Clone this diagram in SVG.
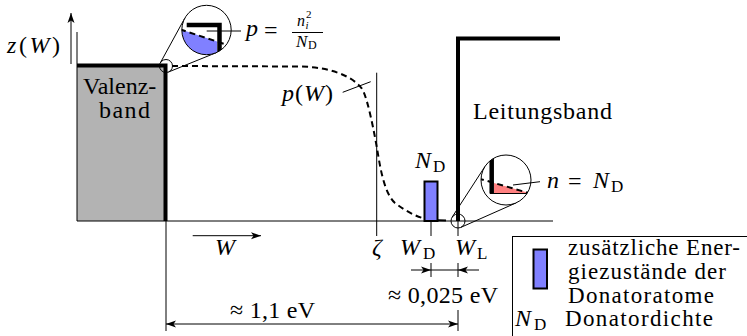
<svg xmlns="http://www.w3.org/2000/svg" width="747" height="336" viewBox="0 0 747 336">
<defs>
  <marker id="ah" viewBox="0 0 10 8" refX="10" refY="4" markerWidth="10" markerHeight="8" orient="auto-start-reverse" markerUnits="userSpaceOnUse">
    <path d="M0,0.5 L10,4 L0,7.5 L2.5,4 Z" fill="#000"/>
  </marker>
  <clipPath id="c1"><circle cx="206.5" cy="30" r="24.7"/></clipPath>
  <clipPath id="c2"><circle cx="506" cy="180" r="25"/></clipPath>
</defs>
<style>
  text{font-family:'Liberation Serif',serif;font-size:24px;fill:#000}
  .it{font-style:italic}
  .sub{font-size:17px;font-style:normal}
  .s16{font-size:16px}
  .s17{font-size:17px}
  .s12{font-size:12px}
  .s11{font-size:11px}
  .leg{font-size:23px}
  .thin{stroke:#000;stroke-width:1;fill:none}
  .thick{stroke:#000;stroke-width:4;fill:none;stroke-linejoin:miter}
  .dash{stroke:#000;stroke-width:2;fill:none;stroke-dasharray:6 4}
  .ring{stroke:#000;stroke-width:1;fill:none}
  .blue{fill:#8080ff}
  .red{fill:#ff8080}
</style>

<g id="valenzband">
  <rect x="77" y="65.5" width="88.5" height="155.5" fill="#b3b3b3"/>
  <path class="thick" d="M77,65.5 H165.5 V221"/>
  <text x="83" y="94">Valenz-</text>
  <text x="99" y="118" textLength="51">band</text>
</g>

<g id="leitungsband">
  <path class="thick" d="M458,221 V38.5 H560"/>
  <text x="473" y="119" textLength="139">Leitungsband</text>
</g>

<g id="donator">
  <rect x="424.5" y="181.5" width="13" height="39.5" class="blue" stroke="#000" stroke-width="2"/>
  <text class="it" x="415" y="168">N<tspan class="sub" x="433" y="172">D</tspan></text>
</g>

<g id="connectors">
  <path class="thin" d="M77,32 V221 H553"/>
  <path class="thin" d="M71,64 V13" marker-end="url(#ah)"/>
  <path class="dash" d="M172,66 L300,66.5 C330,67 352,76 361.7,88.3 C366,94 372,120 376.7,146.7 C379.5,162 383,192 395,203 C405,210.5 415,216 424,218.5"/>
  <path stroke="#000" stroke-width="2" d="M438,220.3 L446,220.6"/>
  <path class="thin" d="M342.7,92.3 L370.7,81.7"/>
  <path class="thin" d="M376.7,72.7 V236"/>
  <path class="thin" d="M431,221 V236 M458,221 V236"/>
  <path class="thin" d="M192.7,235.7 H261" marker-end="url(#ah)"/>
  <path class="thin" d="M411,270 H431" marker-end="url(#ah)"/>
  <path class="thin" d="M479,270 H458" marker-end="url(#ah)"/>
  <path class="thin" d="M431,270 H458 M431,263 V277 M458,263 V277"/>
  <path class="thin" d="M166,221 V331 M458,310 V331"/>
  <path class="thin" d="M166,324 H458" marker-start="url(#ah)" marker-end="url(#ah)"/>
</g>

<g id="mag-valenz">
  <circle class="ring" cx="166" cy="66" r="6.5"/>
  <path class="thin" d="M160.3,62.9 L184.7,18.3 M168.5,72 L216.2,52.7"/>
  <g clip-path="url(#c1)">
    <rect x="180" y="4" width="53" height="53" fill="#fff"/>
    <path class="blue" d="M175,27.6 L217,41.6 L217,60 L175,60 Z"/>
    <path class="dash" d="M180,29.3 L232,46.6"/>
    <path stroke="#000" stroke-width="4.5" fill="none" d="M186.7,25 H219.5 V60"/>
  </g>
  <circle class="ring" cx="206.5" cy="30" r="24.7"/>
  <path class="thin" d="M206.7,31 H241"/>
  <text class="it" x="246" y="36">p</text>
  <text x="264" y="38">=</text>
  <path stroke="#000" stroke-width="1" d="M292,32.5 H323"/>
  <text class="it s16" x="297" y="26">n</text>
  <text class="it s11" x="305.5" y="29">i</text>
  <text class="s11" x="306" y="18">2</text>
  <text class="it s17" x="296" y="47">N<tspan class="s12" x="308" y="49" font-style="normal">D</tspan></text>
</g>

<g id="mag-leitung">
  <circle class="ring" cx="458" cy="221" r="7"/>
  <path class="thin" d="M452.1,217.2 L485,166.4 M460.8,227.4 L516.1,202.9"/>
  <g clip-path="url(#c2)">
    <rect x="480" y="154" width="52" height="52" fill="#fff"/>
    <path class="red" d="M494,182.9 L531,193.6 L494,193.6 Z"/>
    <path class="thin" d="M490,193.5 H535"/>
    <path class="dash" d="M478,178.3 L535,194.8"/>
    <path stroke="#000" stroke-width="4.5" fill="none" d="M491.7,150 V193.5"/>
  </g>
  <circle class="ring" cx="506" cy="180" r="25"/>
  <path class="thin" d="M513,185 L540,181.7"/>
  <text class="it" x="547" y="188">n</text>
  <text x="568" y="189">=</text>
  <text class="it" x="593" y="188">N<tspan class="sub" x="611" y="192">D</tspan></text>
</g>

<g id="labels">
  <text x="7" y="53" textLength="53"><tspan class="it">z</tspan>(<tspan class="it">W</tspan>)</text>
  <text x="282" y="101" textLength="51"><tspan class="it">p</tspan>(<tspan class="it">W</tspan>)</text>
  <text class="it" x="215" y="255">W</text>
  <text class="it" x="372" y="255">ζ</text>
  <text class="it" x="400" y="255">W<tspan class="sub" x="423" y="259">D</tspan></text>
  <text class="it" x="455" y="255">W<tspan class="sub" x="477" y="259">L</tspan></text>
  <text x="388" y="303" textLength="110">≈ 0,025 eV</text>
  <text x="230" y="318" textLength="85">≈ 1,1 eV</text>
</g>

<g id="legend">
  <rect x="512.5" y="236.5" width="260" height="120" fill="none" stroke="#000" stroke-width="1"/>
  <rect x="533.5" y="249.5" width="13.5" height="39" class="blue" stroke="#000" stroke-width="2"/>
  <text class="leg" x="568" y="255" textLength="172">zusätzliche Ener-</text>
  <text class="leg" x="568" y="279" textLength="158">giezustände der</text>
  <text class="leg" x="568" y="302.5" textLength="146">Donatoratome</text>
  <text class="it" x="515" y="326">N<tspan class="sub" x="534" y="330">D</tspan></text>
  <text class="leg" x="565" y="326" textLength="148">Donatordichte</text>
</g>
</svg>
